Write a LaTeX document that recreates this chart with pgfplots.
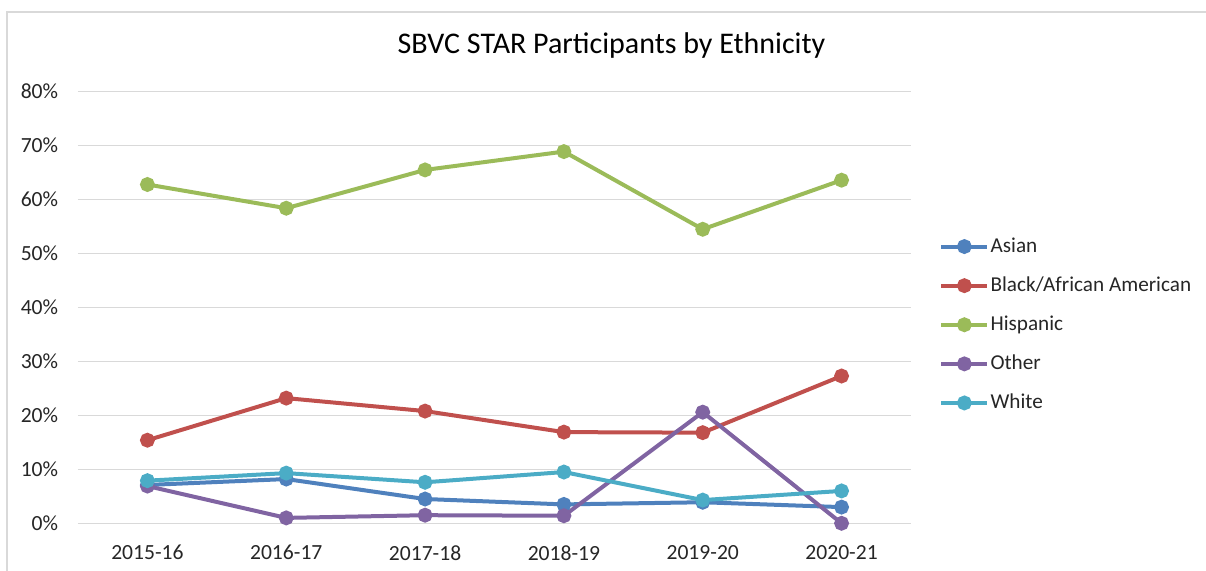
\documentclass[border=0pt]{standalone}
\usepackage{pgfplots}
\pgfplotsset{compat=1.18}
\usepackage{fontspec}
\setmainfont{Carlito}
\definecolor{cAsian}{HTML}{4F81BD}
\definecolor{cBlack}{HTML}{C0504D}
\definecolor{cHisp}{HTML}{9BBB59}
\definecolor{cOther}{HTML}{8064A2}
\definecolor{cWhite}{HTML}{4BACC6}
\definecolor{cGrid}{HTML}{D9D9D9}
\definecolor{cText}{HTML}{262626}
\begin{document}
\begin{tikzpicture}
\useasboundingbox (0,0) rectangle (603pt,285.5pt);
\draw[cGrid, line width=1pt] (3.5pt,-2pt) -- (3.5pt,279.5pt) -- (606pt,279.5pt);
\node[font=\fontsize{15}{18}\selectfont, text=black, anchor=center] at (305.75pt,262.5pt) {SBVC STAR Participants by Ethnicity};
\begin{axis}[
  at={(39pt,23.85pt)}, anchor=south west,
  scale only axis, width=416.5pt, height=215.8pt,
  xmin=-0.5, xmax=5.5, ymin=0, ymax=80,
  xtick={0,1,2,3,4,5},
  xticklabels={2015-16,2016-17,2017-18,2018-19,2019-20,2020-21},
  ytick={0,10,20,30,40,50,60,70,80},
  yticklabels={0\%,10\%,20\%,30\%,40\%,50\%,60\%,70\%,80\%},
  major tick length=0pt,
  axis line style={draw=none},
  ymajorgrids, grid style={cGrid, line width=0.75pt},
  tick label style={font=\fontsize{10.8}{12}\selectfont, text=cText},
  yticklabel style={inner sep=0pt, xshift=-9.75pt},
  xticklabel style={inner sep=0pt, yshift=-10.85pt},
  clip=false,
  every axis plot/.append style={line width=2pt, mark=*, mark size=2.7pt},
  legend cell align=left,
  legend image code/.code={\draw[mark repeat=2,mark phase=2] plot coordinates {(0pt,0pt)(11.5pt,0pt)(23pt,0pt)};},
  legend style={draw=none, fill=none, at={(1,0.46)}, anchor=west, xshift=11pt,
    font=\fontsize{10.6}{12}\selectfont, text=cText, row sep=8.85pt,
    nodes={inner sep=0.6pt, text height=7.5pt, text depth=2pt}},
]
\addplot[color=cAsian] coordinates {(0,7.1)(1,8.2)(2,4.5)(3,3.5)(4,3.9)(5,3.0)};
\addlegendentry{Asian}
\addplot[color=cBlack] coordinates {(0,15.4)(1,23.2)(2,20.8)(3,16.9)(4,16.8)(5,27.3)};
\addlegendentry{Black/African American}
\addplot[color=cHisp] coordinates {(0,62.8)(1,58.4)(2,65.5)(3,68.9)(4,54.5)(5,63.6)};
\addlegendentry{Hispanic}
\addplot[color=cOther] coordinates {(0,6.9)(1,1.0)(2,1.5)(3,1.4)(4,20.6)(5,0.0)};
\addlegendentry{Other}
\addplot[color=cWhite] coordinates {(0,7.9)(1,9.3)(2,7.6)(3,9.5)(4,4.3)(5,6.0)};
\addlegendentry{White}
\end{axis}
\end{tikzpicture}
\end{document}
